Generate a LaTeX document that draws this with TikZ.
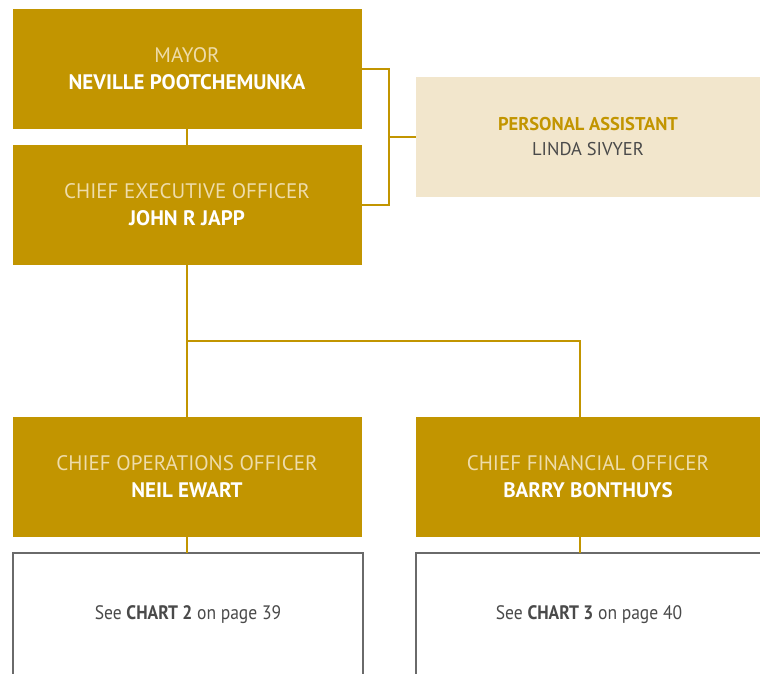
\documentclass[tikz,border=0pt]{standalone}
\usepackage{fontspec}
\setmainfont{PT Sans}
\newfontfamily\narrowsans[FakeStretch=0.9]{PT Sans}
\usetikzlibrary{positioning}

\definecolor{gold}{HTML}{C29500}
\definecolor{palegold}{HTML}{F2E6CC}
\definecolor{titletext}{HTML}{EEDCAA}
\definecolor{darktext}{HTML}{4A4A4A}
\definecolor{boxline}{HTML}{6A6A6A}

\begin{document}
\begin{tikzpicture}[x=1pt,y=-1pt,
	gold/.style={minimum width=349pt,minimum height=120pt,outer sep=0pt,inner sep=0pt,fill=gold,align=center,font=\fontsize{21}{27}\selectfont},
	pale/.style={minimum width=344pt,minimum height=120pt,outer sep=0pt,inner sep=0pt,fill=palegold,align=center,font=\fontsize{18.5}{25}\selectfont},
	chart/.style={minimum height=124pt,outer sep=0pt,inner sep=0pt,draw=boxline,line width=1.3pt,fill=white,text=darktext,font=\narrowsans\fontsize{19.5}{22}\selectfont},
	link/.style={draw=gold,line width=1.3pt}]
	\useasboundingbox (0,0) rectangle (760,673);

	\node [gold] at (187,69) (mayor) {\color{titletext}MAYOR\\ \color{white}\bfseries NEVILLE POOTCHEMUNKA};
	\node [gold] at (187,205) (ceo) {\color{titletext}CHIEF EXECUTIVE OFFICER\\ \color{white}\bfseries JOHN R JAPP};
	\node [pale] at (588,137) (pa) {\color{gold}\bfseries PERSONAL ASSISTANT\\ \color{darktext}LINDA SIVYER};

	\node [gold] at (187,477) (coo) {\color{titletext}CHIEF OPERATIONS OFFICER\\ \color{white}\bfseries NEIL EWART};
	\node [gold,minimum width=344pt] at (588,477) (cfo) {\color{titletext}CHIEF FINANCIAL OFFICER\\ \color{white}\bfseries BARRY BONTHUYS};

	\node [chart,minimum width=350pt] at (188,615) (chart2) {See \textbf{CHART 2} on page 39};
	\node [chart,minimum width=346pt] at (589,615) (chart3) {See \textbf{CHART 3} on page 40};

	\coordinate (bracket) at (389,137);
	\coordinate (split) at (187,341);
	\coordinate (cfotop) at ([xshift=-8pt]cfo.north);
	\coordinate (cfofoot) at ([xshift=-8pt]cfo.south);

	\draw[link] (mayor.east) -| (bracket) |- (ceo.east);
	\draw[link] (bracket) -- (pa.west);
	\draw[link] (mayor.south) -- (ceo.north);
	\draw[link] (ceo.south) -- (coo.north);
	\draw[link] (split) -| (cfotop);
	\draw[link] (coo.south) -- (coo.south|-chart2.north);
	\draw[link] (cfofoot) -- (cfofoot|-chart3.north);
\end{tikzpicture}
\end{document}
